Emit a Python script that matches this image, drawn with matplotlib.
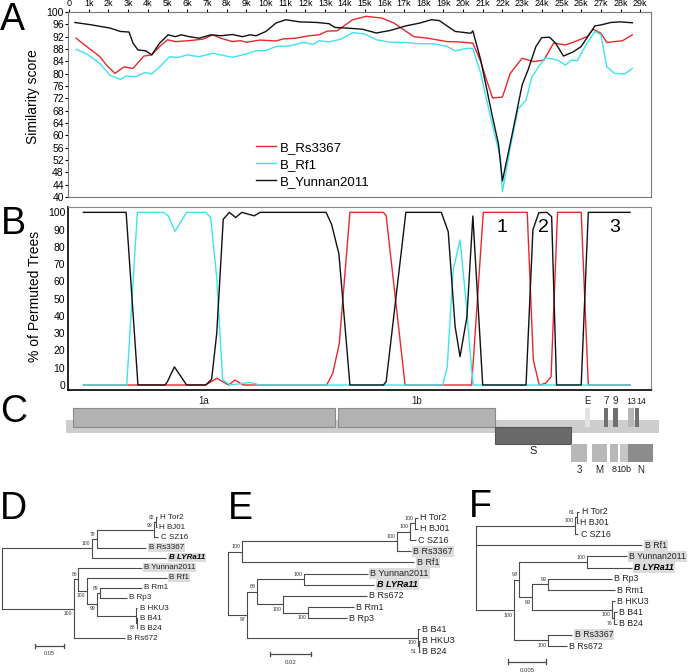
import matplotlib
matplotlib.use('Agg')
import matplotlib.pyplot as plt

plt.rcParams['font.family'] = ['Liberation Sans', 'DejaVu Sans']

# ---------------- DATA ----------------
series_names = ["B_Rs3367", "B_Rf1", "B_Yunnan2011"]

# Panel A: similarity score (position in kb)
simA_rs3367_x = [0.36, 0.90, 1.57, 1.90, 2.33, 2.80, 3.25, 3.80, 4.20, 4.60, 5.00, 5.40, 6.10, 6.80, 7.30, 7.70,
                 8.30, 8.70, 9.00, 9.70, 10.5, 10.9, 11.5, 12.2, 12.7, 13.1, 13.6, 14.4, 15.1, 15.9, 16.5, 17.5,
                 18.2, 19.2, 19.8, 20.5, 20.9, 21.2, 21.5, 22.0, 22.4, 23.0, 23.6, 24.1, 24.6, 25.2, 25.6, 26.3,
                 26.6, 27.0, 27.3, 28.1, 28.6]
simA_rs3367_y = [91.5, 88.8, 85.5, 82.8, 80.1, 82.2, 81.7, 85.7, 86.1, 88.8, 91.0, 90.4, 90.7, 91.2, 92.6, 91.5,
                 90.4, 90.7, 90.2, 90.9, 90.6, 91.3, 91.5, 92.3, 92.6, 93.8, 93.9, 97.5, 98.6, 98.0, 96.4, 92.0,
                 91.5, 90.4, 90.3, 89.9, 83.9, 77.9, 72.1, 72.4, 80.1, 85.0, 83.9, 84.4, 89.9, 89.3, 90.2, 92.0,
                 94.4, 93.1, 90.1, 90.7, 92.6]

simA_rf1_x = [0.36, 0.90, 1.57, 2.08, 2.60, 2.90, 3.40, 3.85, 4.20, 4.60, 5.10, 5.50, 6.00, 6.60, 7.30, 8.30,
              9.00, 9.50, 10.0, 10.5, 11.2, 11.9, 12.4, 12.7, 13.2, 13.8, 14.4, 15.0, 15.6, 16.3, 17.1, 17.8,
              18.5, 19.2, 19.6, 20.2, 20.5, 20.9, 21.2, 21.6, 21.9, 22.0, 22.4, 22.8, 23.2, 23.5, 23.9, 24.2,
              24.8, 25.2, 25.5, 25.8, 26.3, 26.7, 27.0, 27.3, 27.7, 28.2, 28.6]
simA_rf1_y = [87.9, 86.4, 83.3, 79.5, 78.1, 79.2, 79.0, 80.4, 79.9, 82.2, 85.5, 85.2, 86.1, 85.5, 86.6, 85.3,
              86.4, 87.4, 87.5, 88.8, 89.0, 90.1, 89.5, 90.7, 90.3, 91.2, 93.3, 92.9, 91.0, 90.2, 90.1, 89.7,
              89.7, 88.8, 87.4, 88.2, 88.2, 80.1, 71.4, 60.5, 52.8, 41.7, 56.1, 68.6, 71.4, 79.0, 82.8, 85.2,
              84.4, 82.8, 84.4, 84.2, 89.9, 93.7, 92.6, 82.2, 80.1, 79.9, 81.7]

simA_yun_x = [0.30, 1.07, 2.08, 2.60, 3.05, 3.25, 3.50, 3.90, 4.20, 4.60, 5.03, 5.40, 5.70, 6.10, 6.60, 7.20,
              7.70, 8.30, 8.80, 9.20, 9.50, 10.0, 10.5, 11.0, 11.7, 12.6, 13.2, 13.5, 14.3, 14.9, 15.6, 16.3,
              17.1, 17.8, 18.4, 18.8, 19.6, 20.4, 20.5, 20.9, 21.5, 21.8, 22.0, 22.5, 23.0, 23.3, 23.7, 24.0,
              24.4, 24.7, 25.1, 25.6, 26.0, 26.7, 27.0, 27.5, 28.0, 28.6]
simA_yun_y = [96.6, 95.9, 94.8, 93.7, 93.5, 89.9, 87.7, 87.4, 86.1, 89.9, 92.6, 92.0, 92.6, 92.0, 91.5, 92.6,
              92.3, 92.7, 92.0, 92.6, 92.3, 93.7, 96.4, 97.5, 96.8, 96.6, 96.2, 95.0, 94.7, 94.4, 93.2, 94.0,
              95.5, 96.4, 97.5, 97.2, 93.7, 93.1, 93.9, 84.4, 65.9, 57.2, 45.2, 60.5, 76.3, 81.2, 88.8, 91.7,
              91.8, 89.9, 85.7, 87.1, 88.8, 95.5, 95.8, 96.6, 96.8, 96.5]

# Panel B: bootscan, % of permuted trees (position in kb)
bootB_rs3367_x = [0.73, 6.94, 7.50, 8.10, 8.43, 8.85, 13.08, 13.39, 13.72, 14.26, 15.96, 16.10, 17.06, 20.44,
                  21.03, 23.26, 23.57, 23.87, 24.20, 24.47, 24.80, 26.00, 26.36, 28.48]
bootB_rs3367_y = [0, 0, 3.9, 0, 2.9, 0, 0, 6.8, 24, 100, 100, 98, 0, 0,
                  100, 100, 14.5, 0, 1, 4.8, 100, 100, 0, 0]
bootB_rf1_x = [0.73, 2.93, 3.47, 4.79, 5.04, 5.38, 5.97, 6.94, 7.19, 7.50, 7.80, 8.17, 9.19, 9.70, 18.97,
               19.20, 19.50, 19.85, 20.15, 20.44, 20.53, 28.48]
bootB_rf1_y = [0, 0, 100, 100, 98, 89, 100, 100, 97, 62, 3, 0, 1.5, 0, 0,
               10.6, 66.6, 84, 49, 8.7, 0, 0]
bootB_yun_x = [0.73, 2.90, 3.50, 4.87, 5.00, 5.35, 5.97, 6.94, 7.24, 7.50, 7.83, 8.14, 8.46, 8.77, 9.40, 9.70,
               13.05, 13.33, 13.70, 14.26, 15.96, 16.10, 17.10, 18.90, 19.25, 19.60, 19.85, 20.20, 20.50, 21.00,
               23.20, 23.55, 23.85, 24.25, 24.50, 24.75, 26.00, 26.36, 28.48]
bootB_yun_y = [100, 100, 0, 0, 2, 10.5, 0, 0, 3.3, 30, 96, 100, 97, 100, 98, 100,
               100, 93, 76, 0, 0, 2, 100, 100, 88.8, 33.8, 16.4, 39.5, 97.9, 0,
               0, 90, 99.8, 100, 97.5, 0, 0, 100, 100]
region_labels = ["1", "2", "3"]
region_label_kb = [21.98, 24.06, 27.72]

# Panel C: genome map (bp)
genome_length = 29900
gene_names = ["1a", "1b", "S", "E", "7", "9", "13", "14", "3", "M", "8", "10b", "N"]
gene_start = [190, 13670, 21630, 26190, 27170, 27630, 28390, 28730, 25470, 26560, 27460, 27970, 28390]
gene_end = [13500, 21630, 25470, 26450, 27370, 27860, 28680, 28930, 26310, 27290, 27880, 28390, 29660]
gene_row = [0, 0, 1, 0, 0, 0, 0, 0, 2, 2, 2, 2, 2]

# Panels D-F: phylogenetic trees. tip = (name, branch length); node = ([children], branch length, support)
tree_D = ([
    ([
        ([
            ([
                ([("H Tor2", 0.0022), ("H BJ01", 0.0011)], 0.0034, "82"),
                ("C SZ16", 0.0074)
            ], 0.0988, "99"),
            ("B Rs3367", 0.086)
        ], 0.0086, "79"),
        ("B LYRa11", 0.129)
    ], 0.155, "100"),
    ([
        ([
            ("B Yunnan2011", 0.109),
            ([
                ("B Rf1", 0.138),
                ([
                    ([("B Rm1", 0.0719), ("B Rp3", 0.046)], 0.0057, "89"),
                    ([("B HKU3", 0.0022), ([("B B41", 0.001), ("B B24", 0.001)], 0.0012, "88")], 0.0678, "")
                ], 0.0172, "99")
            ], 0.0145, "100")
        ], 0.0074, "86"),
        ("B Rs672", 0.0878)
    ], 0.1247, "100")
], 0.0, "")

tree_E = ([
    ([
        ([
            ([
                ([("H Tor2", 0.0013), ("H BJ01", 0.0013)], 0.0024, "100"),
                ("C SZ16", 0.0028)
            ], 0.0065, "100"),
            ("B Rs3367", 0.007)
        ], 0.0756, "100"),
        ("B Rf1", 0.0842)
    ], 0.0068, "100"),
    ([
        ([
            ([("B Yunnan2011", 0.0314), ("B LYRa11", 0.0346)], 0.0228, "100"),
            ([("B Rs672", 0.0407), ([("B Rm1", 0.022), ("B Rp3", 0.0187)], 0.0122, "100")], 0.013, "100")
        ], 0.0049, "89"),
        ([("B B41", 0.0011), ([("B HKU3", 0.0007), ("B B24", 0.0007)], 0.0004, "51")], 0.0834, "100")
    ], 0.0093, "97")
], 0.0, "")

tree_F = ([
    ([([("H Tor2", 0.00031), ("H BJ01", 0.00013)], 0.00023, "81"), ("C SZ16", 0.00044)], 0.01326, "100"),
    ("B Rf1", 0.02227),
    ([
        ([
            ([("B Yunnan2011", 0.00536), ("B LYRa11", 0.00603)], 0.00906, "100"),
            ([
                ([("B Rp3", 0.00849), ("B Rm1", 0.00893)], 0.00214, "99"),
                ([("B HKU3", 0.00036), ([("B B41", 0.00032), ("B B24", 0.00032)], 0.00027, "76")], 0.01071, "100")
            ], 0.00178, "99")
        ], 0.00063, "93"),
        ([("B Rs3367", 0.00321), ("B Rs672", 0.00246)], 0.00455, "100")
    ], 0.00513, "100")
], 0.0, "")

scale_D, scale_E, scale_F = 0.05, 0.02, 0.005
highlight_D = ["B Rs3367", "B LYRa11", "B Yunnan2011", "B Rf1"]
highlight_E = ["B Rs3367", "B Rf1", "B Yunnan2011", "B LYRa11"]
highlight_F = ["B Rf1", "B Yunnan2011", "B LYRa11", "B Rs3367"]
query_name = "B LYRa11"

# ---------------- FIGURE ----------------
W, H = 691, 672
fig = plt.figure(figsize=(W / 100, H / 100), dpi=100)

def px_axes(x0, y0, x1, y1):
    return fig.add_axes([x0 / W, 1 - y1 / H, (x1 - x0) / W, (y1 - y0) / H])

colors = ["#e8272c", "#3ce4ee", "#111111"]
XL = ((68 - 69) / 19.7 * 1000, (651 - 69) / 19.7 * 1000)

# ---- Panel A ----
axA = px_axes(68, 12, 651, 197)
for xs, ys, c, n in [(simA_rs3367_x, simA_rs3367_y, colors[0], series_names[0]),
                     (simA_rf1_x, simA_rf1_y, colors[1], series_names[1]),
                     (simA_yun_x, simA_yun_y, colors[2], series_names[2])]:
    axA.plot([v * 1000 for v in xs], ys, color=c, lw=1.0, label=n)
axA.set_xlim(*XL)
axA.set_ylim(40, 100)
axA.xaxis.tick_top()
axA.set_xticks([k * 1000 for k in range(30)])
axA.set_xticklabels(["0"] + ["%dk" % k for k in range(1, 30)], fontsize=6.5)
axA.set_yticks(range(40, 101, 4))
axA.tick_params(axis='y', labelsize=7.5, length=2, pad=1)
axA.tick_params(axis='x', length=2, pad=1)
for s in axA.spines.values():
    s.set_color('#777777')
axA.set_ylabel("Similarity score", fontsize=10)
axA.yaxis.set_label_coords(-0.048, 0.54)
axA.legend(loc='lower left', bbox_to_anchor=(0.322, 0.05), frameon=False, fontsize=9.5,
           handlelength=1.55, handletextpad=0.3, labelspacing=0.35, borderpad=0, borderaxespad=0)

# ---- Panel B ----
axB = px_axes(68, 207, 651, 390)
for xs, ys, c in [(bootB_rs3367_x, bootB_rs3367_y, colors[0]),
                  (bootB_rf1_x, bootB_rf1_y, colors[1]),
                  (bootB_yun_x, bootB_yun_y, colors[2])]:
    axB.plot([v * 1000 for v in xs], ys, color=c, lw=1.0)
axB.set_xlim(*XL)
axB.set_ylim(-2.9, 103.1)
axB.set_xticks([])
axB.set_yticks(range(0, 101, 10))
axB.tick_params(axis='y', labelsize=7.5, length=0, pad=2)
axB.spines['top'].set_color('#888888')
axB.spines['right'].set_color('#888888')
axB.spines['left'].set_linewidth(1.2)
axB.spines['bottom'].set_linewidth(1.2)
axB.set_ylabel("% of Permuted Trees", fontsize=10)
axB.yaxis.set_label_coords(-0.045, 0.51)
for lab, kb in zip(region_labels, region_label_kb):
    axB.text(kb * 1000, 91.5, lab, fontsize=14, ha='center', va='center')

# ---- Panel C ----
axC = px_axes(68, 395, 651, 475)
axC.set_xlim(*XL)
axC.set_ylim(80, 0)
axC.axis('off')
row_geom = {0: (22.5, 19.0), 1: (40.25, 17.5), 2: (57.85, 17.7)}
label_y = {0: 6.0, 1: 55.7, 2: 75.0}
gene_style = {"1a": ("#b2b2b2", "#8a8a8a"), "1b": ("#b2b2b2", "#8a8a8a"), "S": ("#6a6a6a", "#555555"),
              "E": ("#e2e2e2", "none"), "7": ("#707070", "none"), "9": ("#707070", "none"),
              "13": ("#b6b6b6", "none"), "14": ("#707070", "none"), "3": ("#b8b8b8", "none"),
              "M": ("#b8b8b8", "none"), "8": ("#b8b8b8", "none"), "10b": ("#c6c6c6", "none"),
              "N": ("#8c8c8c", "none")}
axC.barh(31.25, genome_length + 200, left=-150, height=12.5, color="#cdcdcd", clip_on=False)
joint = (gene_end[gene_names.index("13")] + gene_end[gene_names.index("14")]) / 2
for n, s, e, r in zip(gene_names, gene_start, gene_end, gene_row):
    yc, h = row_geom[r]
    fc, ec = gene_style[n]
    axC.barh(yc, e - s, left=s, height=h, color=fc, edgecolor=ec, linewidth=0.8, clip_on=False)
    fs = 8 if n == "S" else 7
    xt, ha = (s + e) / 2, 'center'
    if n == "13":
        xt, ha, fs = joint, 'right', 6.3
    elif n == "14":
        xt, ha, fs = joint, 'left', 6.3
    elif n in ("8", "10b"):
        fs = 6.5
    axC.text(xt, label_y[r], n, fontsize=fs, ha=ha, va='center', color='#222222')

# ---- Trees ----
def draw_tree(tree, box, root_px, unit_px, tip0_px, sp_px, highlights, scale_len, bar_px, tipfs, supfs):
    x0, y0, x1, y1 = box
    ax = px_axes(x0, y0, x1, y1)
    ax.set_xlim((x0 - root_px) / unit_px, (x1 - root_px) / unit_px)
    ax.set_ylim((y1 - tip0_px) / sp_px, (y0 - tip0_px) / sp_px)
    ax.axis('off')
    lc = '#4a4a4a'
    counter = [0]
    info = {}

    def layout(node, xp):
        if isinstance(node[0], str):
            x = xp + node[1]
            y = counter[0]
            counter[0] += 1
            info[id(node)] = (x, y)
            return y
        x = xp + node[1]
        ys = [layout(c, x) for c in node[0]]
        y = (ys[0] + ys[-1]) / 2
        info[id(node)] = (x, y)
        return y

    layout(tree, 0.0)
    dx = 1.0 / unit_px

    def draw(node, xp, yp):
        x, y = info[id(node)]
        if node[1] > 0:
            ax.plot([xp, x], [y, y], color=lc, lw=0.8, solid_capstyle='butt')
        if isinstance(node[0], str):
            name = node[0]
            kw = dict(fontsize=tipfs, ha='left', va='center', color='#222222')
            if name == query_name:
                kw.update(fontweight='bold', style='italic', color='black')
            if name in highlights:
                kw['bbox'] = dict(boxstyle='square,pad=0.12', fc='#dcdcdc', ec='none')
            ax.text(x + 2.5 * dx, y, name, **kw)
            return
        cys = [info[id(c)][1] for c in node[0]]
        ax.plot([x, x], [min(cys), max(cys)], color=lc, lw=0.8)
        for c in node[0]:
            draw(c, x, y)
        if node[2]:
            off = -0.45 if y <= yp else 0.45
            ax.text(x - 1.5 * dx, y + off, node[2], fontsize=supfs, ha='right', va='center', color='#333333')

    draw(tree, 0.0, info[id(tree)][1])
    bx0, bx1, by = bar_px
    xa = (bx0 - root_px) / unit_px
    yb = (by - tip0_px) / sp_px
    ax.plot([xa, xa + scale_len], [yb, yb], color=lc, lw=0.9)
    for xx in (xa, xa + scale_len):
        ax.plot([xx, xx], [yb - 0.2, yb + 0.2], color=lc, lw=0.9)
    ax.text(xa + scale_len / 2, yb + 0.8, ("%g" % scale_len), fontsize=supfs + 0.5, ha='center', va='center',
            color='#333333')
    return ax

draw_tree(tree_D, (0, 480, 228, 672), 1.7, 580.0, 517.3, 10.08, highlight_D, scale_D, (35, 64, 645.7), 5.8, 3.6)
draw_tree(tree_E, (225, 480, 460, 672), 227.7, 2050.0, 517.7, 11.17, highlight_E, scale_E, (270, 311, 654), 6.5, 3.8)
draw_tree(tree_F, (455, 480, 691, 672), 476.0, 7467.0, 511.7, 11.2, highlight_F, scale_F, (508.3, 545.7, 661.7), 6.3, 3.8)

# ---- Panel letters ----
for lab, x, y in [("A", 0, 2), ("B", 1, 206), ("C", 0, 394), ("D", 0, 491), ("E", 228, 491), ("F", 469, 489)]:
    fig.text(x / W, 1 - y / H, lab, fontsize=27, ha='left', va='top')

fig.savefig("out.png", dpi=100)
